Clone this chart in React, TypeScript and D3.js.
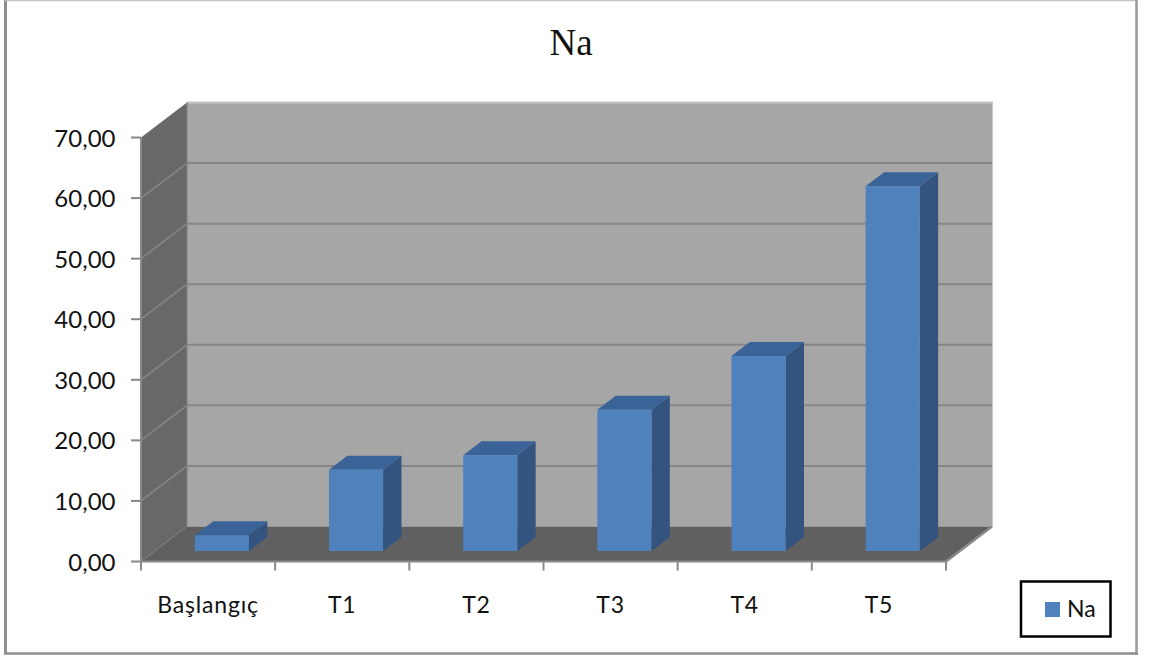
import React from "react";
import * as d3 from "d3";

const categories = ["Başlangıç", "T1", "T2", "T3", "T4", "T5"];
const naValues = [2.6, 13.4, 15.8, 23.3, 32.2, 60.2];
const yTicks = [0, 10, 20, 30, 40, 50, 60, 70];
const seriesName = "Na";

const W = 1149;
const H = 657;
const labelFont = "Lato, 'Open Sans', sans-serif";

// Front plane of the 3D box, plus the oblique offset of its rear plane.
const xL = 141;
const xR = 946;
const x = d3.scaleBand<string>().domain(categories).range([xL, xR]).paddingInner(0.597).paddingOuter(0.2985);
const xBand = d3.scaleBand<string>().domain(categories).range([xL, xR]);
const y = d3.scaleLinear().domain([0, 70]).range([561.5, 137.5]);
const depthX = d3.scaleLinear().domain([0, 1]).range([0, 46]);
const depthY = d3.scaleLinear().domain([0, 1]).range([0, -35]);

const pt = (px: number, value: number, depth: number): [number, number] => [
  px + depthX(depth),
  y(value) + depthY(depth),
];
const poly = (pts: [number, number][]) => pts.map((p) => p.join(",")).join(" ");

const barDepthFront = 0.3;
const barDepthBack = 0.7;
const yMax = 70;

export default function App() {
  return (
    <svg
      width={W}
      height={H}
      viewBox={`0 0 ${W} ${H}`}
      style={{ position: "absolute", left: 0, top: 0, background: "#fff", display: "block" }}
    >
      {/* outer chart frame */}
      <line x1={5.5} y1={0} x2={5.5} y2={654} stroke="#8e8e8e" strokeWidth={3} />
      <line x1={5} y1={0.5} x2={1138} y2={0.5} stroke="#c4c4c4" strokeWidth={1.5} />
      <line x1={1136.5} y1={0} x2={1136.5} y2={655} stroke="#9a9a9a" strokeWidth={2.5} />
      <line x1={4} y1={653.5} x2={1138} y2={653.5} stroke="#8e8e8e" strokeWidth={2.5} />

      <text x={571} y={55} textAnchor="middle" fontFamily="'Liberation Serif', serif" fontSize={37} fill="#111">
        {seriesName}
      </text>

      {/* rear wall, side wall and floor */}
      <polygon
        points={poly([pt(xL, 0, 1), pt(xR, 0, 1), pt(xR, yMax, 1), pt(xL, yMax, 1)])}
        fill="#a6a6a6"
      />
      <polygon
        points={poly([pt(xL, 0, 0), pt(xL, 0, 1), pt(xL, yMax, 1), pt(xL, yMax, 0)])}
        fill="#686868"
      />
      <polygon points={poly([pt(xL, 0, 0), pt(xR, 0, 0), pt(xR, 0, 1), pt(xL, 0, 1)])} fill="#606060" />

      {/* gridlines across the side and rear walls */}
      {yTicks.map((t) => {
        const a = pt(xL, t, 0);
        const b = pt(xL, t, 1);
        const c = pt(xR + 1, t, 1);
        const color = t === 70 ? "#c2c2c2" : "#868686";
        return (
          <g key={t}>
            {t > 0 && t < 70 && (
              <line x1={a[0]} y1={a[1]} x2={b[0]} y2={b[1]} stroke="#868686" strokeWidth={1.5} />
            )}
            {t > 0 && <line x1={b[0]} y1={b[1]} x2={c[0]} y2={c[1]} stroke={color} strokeWidth={2} />}
            <line x1={131} y1={a[1]} x2={a[0]} y2={a[1]} stroke="#868686" strokeWidth={2} />
            <text
              x={115.5}
              y={a[1] + 9}
              textAnchor="end"
              fontFamily={labelFont}
              fontSize={24}
              fill="#111"
            >
              {d3.format(".2f")(t).replace(".", ",")}
            </text>
          </g>
        );
      })}
      <line x1={pt(xL, 0, 1)[0]} y1={pt(xL, 0, 1)[1]} x2={pt(xL, yMax, 1)[0]} y2={pt(xL, yMax, 1)[1]} stroke="#808080" strokeWidth={1} />
      <line x1={pt(xR, 0, 1)[0] + 0.5} y1={pt(xR, 0, 1)[1]} x2={pt(xR, yMax, 1)[0] + 0.5} y2={pt(xR, yMax, 1)[1]} stroke="#c8c8c8" strokeWidth={1} />

      {/* value axis and floor edges */}
      <line x1={xL} y1={y(0)} x2={xL} y2={y(70)} stroke="#8a8a8a" strokeWidth={2} />
      <line x1={xL} y1={y(0)} x2={xR} y2={y(0)} stroke="#8a8a8a" strokeWidth={2} />
      <line x1={xR} y1={y(0)} x2={xR + depthX(1)} y2={y(0) + depthY(1)} stroke="#8a8a8a" strokeWidth={2.5} />
      {[...categories.map((c) => xBand(c) as number), xR].map((tx) => (
        <line key={tx} x1={tx} y1={y(0)} x2={tx} y2={y(0) + 9} stroke="#8a8a8a" strokeWidth={2} />
      ))}

      {/* columns */}
      {categories.map((c, i) => {
        const left = x(c) as number;
        const right = left + x.bandwidth();
        const v = naValues[i];
        return (
          <g key={c}>
            <polygon
              points={poly([pt(right, 0, barDepthFront), pt(right, 0, barDepthBack), pt(right, v, barDepthBack), pt(right, v, barDepthFront)])}
              fill="#32547e"
            />
            <polygon
              points={poly([pt(left, v, barDepthFront), pt(right, v, barDepthFront), pt(right, v, barDepthBack), pt(left, v, barDepthBack)])}
              fill="#3a6398"
            />
            <polygon
              points={poly([pt(left, 0, barDepthFront), pt(right, 0, barDepthFront), pt(right, v, barDepthFront), pt(left, v, barDepthFront)])}
              fill="#4f81bd"
            />
          </g>
        );
      })}

      {/* category labels */}
      {categories.map((c) => (
        <text
          key={c}
          x={(xBand(c) as number) + xBand.bandwidth() / 2}
          y={613}
          textAnchor="middle"
          fontFamily={labelFont}
          fontSize={23}
          letterSpacing={0.8}
          fill="#111"
        >
          {c}
        </text>
      ))}

      {/* legend */}
      <rect x={1021} y={581.5} width={89.5} height={55} fill="#fff" stroke="#000" strokeWidth={2.5} />
      <rect x={1045} y={602} width={15} height={15} fill="#4f81bd" />
      <text x={1067} y={617} fontFamily={labelFont} fontSize={23} fill="#111">
        {seriesName}
      </text>
    </svg>
  );
}
